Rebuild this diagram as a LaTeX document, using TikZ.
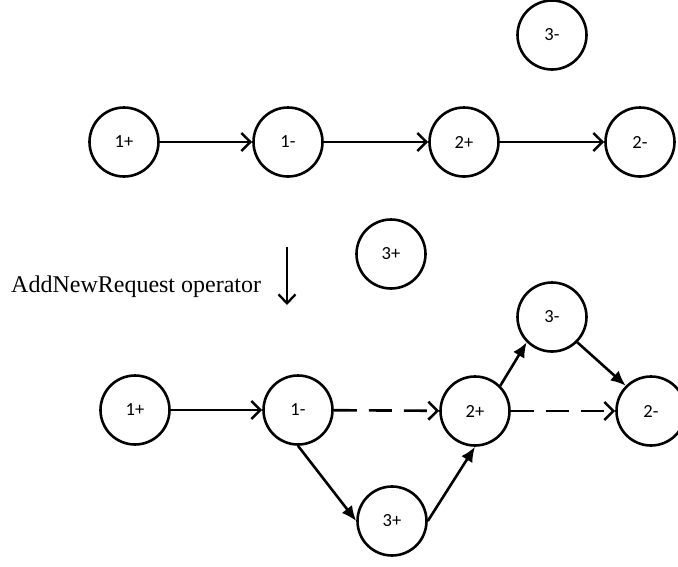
\documentclass[tikz,border=0pt]{standalone}
\usepackage{fontspec}
\setmainfont{Liberation Serif}
\newfontfamily\labelfont{Carlito}
\usetikzlibrary{arrows.meta}
\begin{document}
\begin{tikzpicture}[x=1pt,y=-1pt,
  event/.style={circle,draw,line width=2.6pt,minimum size=69pt,inner sep=0pt,
    font=\labelfont\fontsize{18.5}{18.5}\selectfont},
  link/.style={line width=2.6pt,-{Straight Barb[length=9pt,width=18pt,line width=2.6pt]}},
  dashlink/.style={link,dash pattern=on 23pt off 12pt},
  insertlink/.style={line width=2.6pt,-{Latex[length=15pt,width=13pt]}}]
\useasboundingbox (0,0) rectangle (678,566);

% original route
\node[event] (a1p) at (124,142) {1+};
\node[event] (a1m) at (288,142) {1-};
\node[event] (a2p) at (464,142) {2+};
\node[event] (a2m) at (640,142) {2-};
\node[event] (a3m) at (552,35) {3-};
\node[event] (a3p) at (391,254) {3+};
\draw[link] (a1p) -- (a1m);
\draw[link] (a1m) -- (a2p);
\draw[link] (a2p) -- (a2m);

% operator
\coordinate (opTop) at (287,247);
\coordinate (opBot) at (287,305);
\draw[line width=2.3pt,-{Straight Barb[length=9pt,width=17pt,line width=2.3pt]}] (opTop) -- (opBot);
\node[anchor=base west,inner sep=0pt,font=\fontsize{24}{24}\selectfont] (opLabel) at (11,292) {AddNewRequest operator};

% route after insertion
\node[event] (b1p) at (135,410) {1+};
\node[event] (b1m) at (298,410) {1-};
\node[event] (b2p) at (475,411) {2+};
\node[event] (b2m) at (651,411) {2-};
\node[event] (b3m) at (552,317) {3-};
\node[event] (b3p) at (392,521) {3+};
\draw[link] (b1p) -- (b1m);
\draw[dashlink] (b1m) -- (b2p);
\draw[dashlink] (b2p) -- (b2m);
\draw[insertlink] (b1m.south) -- (b3p.west);
\draw[insertlink] (b3p.east) -- (b2p.south);
\draw[insertlink] (b2p.north east) -- (b3m.south west);
\draw[insertlink] (b3m.south east) -- (b2m.north west);
\end{tikzpicture}
\end{document}
